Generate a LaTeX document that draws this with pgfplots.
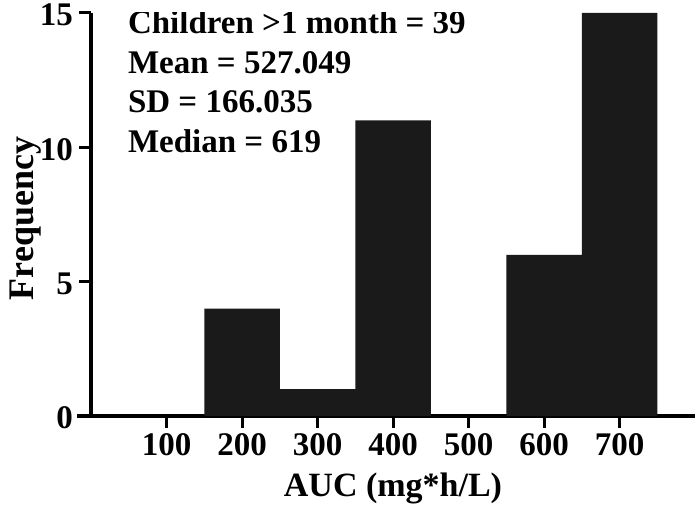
\documentclass[border=0pt]{standalone}
\usepackage{fontspec}
\setmainfont{Liberation Serif}
\usepackage{pgfplots}
\pgfplotsset{compat=1.18}
\definecolor{barfill}{HTML}{1A1A1A}
\begin{document}
\begin{tikzpicture}
\begin{axis}[
  at={(91pt,88pt)}, anchor=south west,
  scale only axis, width=604pt, height=403pt,
  xmin=0, xmax=800, ymin=0, ymax=15,
  axis x line*=bottom, axis y line*=left,
  xtick={100,200,300,400,500,600,700},
  ytick={0,5,10,15},
  xtick style={draw=none},
  ytick style={draw=none},
  major tick length=12pt,
  axis line style={line width=3.5pt},
  /pgf/number format/assume math mode=true,
  xticklabel style={font=\fontsize{33}{33}\selectfont\bfseries, inner sep=0pt, yshift=-17pt},
  yticklabel style={font=\fontsize{33}{33}\selectfont\bfseries, inner sep=0pt, xshift=-18pt, yshift=-2pt},
  xlabel={AUC (mg*h/L)},
  ylabel={Frequency},
  xlabel style={font=\fontsize{34}{34}\selectfont\bfseries, at={(axis description cs:0.5,-0.1985)}, anchor=base},
  ylabel style={font=\fontsize{36}{36}\selectfont\bfseries, at={(axis description cs:-0.096,0.49)}, anchor=base},
]
\addplot[ybar, bar width=100, bar shift=0pt, fill=barfill, draw=none]
  coordinates {(200,4) (300,1) (400,11) (500,0) (600,6) (700,15)};
\pgfplotsinvokeforeach{100,200,300,400,500,600,700}{\coordinate (xt#1) at (axis cs:#1,0);}
\pgfplotsinvokeforeach{0,5,10,15}{\coordinate (yt#1) at (axis cs:0,#1);}
\node[anchor=base west, inner sep=0pt, font=\fontsize{33}{33}\selectfont\bfseries] at (axis description cs:0.061,0.950) {Children >1 month = 39};
\node[anchor=base west, inner sep=0pt, font=\fontsize{33}{33}\selectfont\bfseries] at (axis description cs:0.061,0.851) {Mean = 527.049};
\node[anchor=base west, inner sep=0pt, font=\fontsize{33}{33}\selectfont\bfseries] at (axis description cs:0.061,0.752) {SD = 166.035};
\node[anchor=base west, inner sep=0pt, font=\fontsize{33}{33}\selectfont\bfseries] at (axis description cs:0.061,0.655) {Median = 619};
\end{axis}
\foreach \v in {100,200,300,400,500,600,700} {\draw[black, line width=3pt] (xt\v) -- ++(0pt,-12pt);}
\foreach \v in {0,5,10,15} {\draw[black, line width=3pt] (yt\v) -- ++(-12pt,0pt);}
\fill[black] (77pt,86.25pt) rectangle (92pt,89.75pt);
\pgfresetboundingbox
\path[use as bounding box] (0,0) rectangle (700pt,504pt);
\end{tikzpicture}
\end{document}
